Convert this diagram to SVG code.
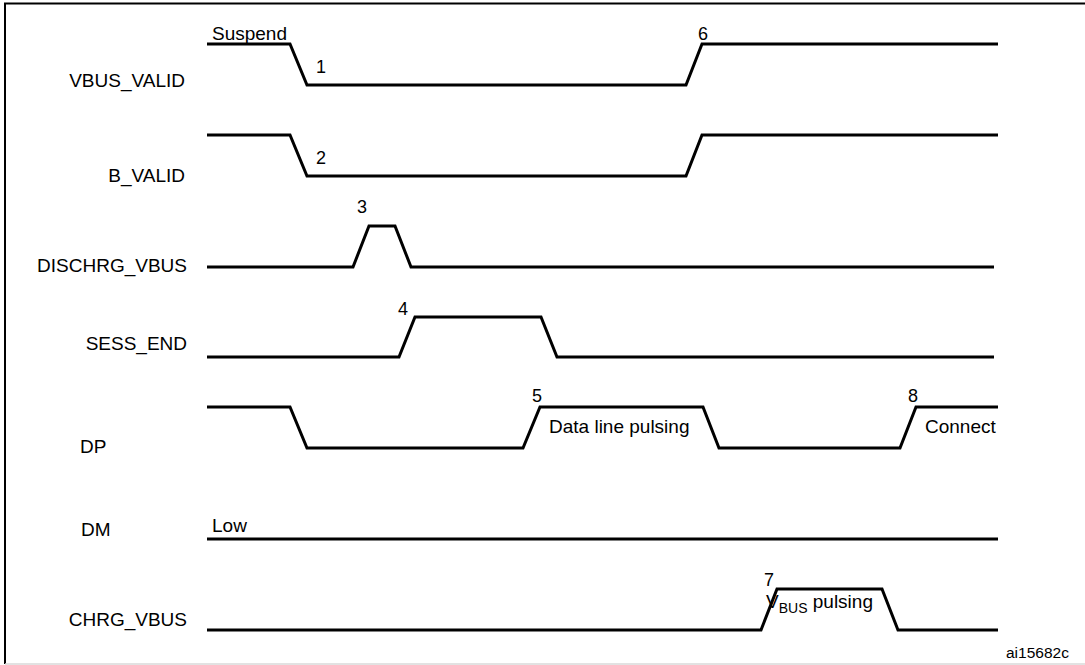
<svg xmlns="http://www.w3.org/2000/svg" width="1085" height="665" viewBox="0 0 1085 665">
<style>
.sig{fill:none;stroke:#000;stroke-width:3;stroke-linejoin:miter;stroke-linecap:butt}
text{font-family:"Liberation Sans",Arial,sans-serif;fill:#000}
.lbl{font-size:19px;text-anchor:end}
.note{font-size:19px}
.num{font-size:18px;text-anchor:middle}
.sub{font-size:14px}
</style>
<rect width="1085" height="665" fill="#fff"/>
<path d="M1085,3.5 H5 V664" fill="none" stroke="#000" stroke-width="2"/>
<path d="M5,664 H1085" fill="none" stroke="#d8d8d8" stroke-width="1.5"/>
<g id="labels">
<text class="lbl" x="185" y="87">VBUS_VALID</text>
<text class="lbl" x="185" y="182">B_VALID</text>
<text class="lbl" x="187" y="272">DISCHRG_VBUS</text>
<text class="lbl" x="187" y="350">SESS_END</text>
<text class="note" x="80" y="453">DP</text>
<text class="note" x="81" y="536">DM</text>
<text class="lbl" x="187" y="626">CHRG_VBUS</text>
</g>
<g id="connectors">
<path id="vbus_valid" class="sig" d="M207,44 H290 L307,85 H686 L702,44 H998"/>
<path id="b_valid" class="sig" d="M207,135 H290 L307,176 H686 L702,135 H998"/>
<path id="dischrg_vbus" class="sig" d="M207,267 H353 L369,226 H395 L411,267 H994"/>
<path id="sess_end" class="sig" d="M207,357 H399 L415,317 H541 L557,357 H994"/>
<path id="dp" class="sig" d="M207,407 H290 L307,448 H523 L540,407 H703 L719,448 H900 L916,407 H998"/>
<path id="dm" class="sig" d="M207,539 H998"/>
<path id="chrg_vbus" class="sig" d="M207,630 H761 L777,589 H882 L898,630 H998"/>
</g>
<g id="annotations">
<text class="note" x="212" y="40">Suspend</text>
<text class="num" x="321" y="73">1</text>
<text class="num" x="321" y="164">2</text>
<text class="num" x="362" y="213">3</text>
<text class="num" x="403" y="315">4</text>
<text class="num" x="537" y="402">5</text>
<text class="note" x="549" y="433">Data line pulsing</text>
<text class="num" x="769" y="586">7</text>
<text class="note" x="766" y="608">V<tspan class="sub" dy="5">BUS</tspan><tspan dy="-5"> pulsing</tspan></text>
<text class="num" x="703" y="40">6</text>
<text class="note" x="212" y="532">Low</text>
<text class="num" x="913" y="402">8</text>
<text class="note" x="925" y="433">Connect</text>
<text style="font-size:15.5px" x="1006" y="658">ai15682c</text>
</g>
</svg>
